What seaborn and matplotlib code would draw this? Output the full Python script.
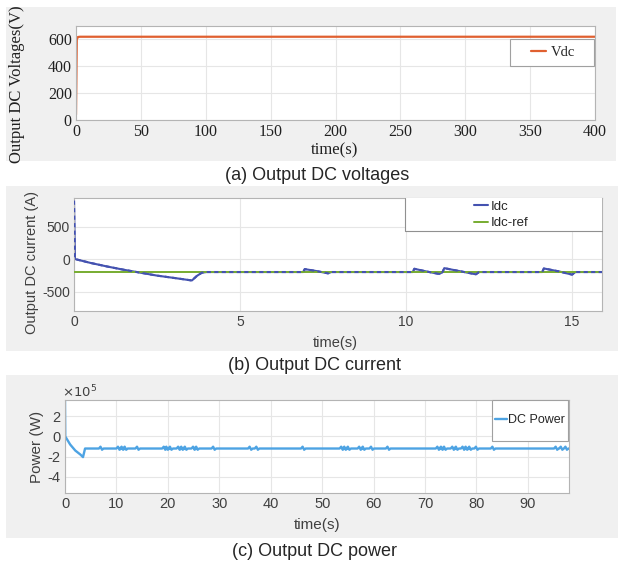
import numpy as np
import pandas as pd
import matplotlib
matplotlib.use("Agg")
import matplotlib.pyplot as plt
from matplotlib.patches import Rectangle
import seaborn as sns

# === datos ===
# (a) tensión DC
t_vdc = [0, 0.6, 1.5, 3, 400]
vdc = [40, 600, 618, 620, 620]

# (b) corriente DC
t_idc = [0, 0.03, 0.5, 1.0, 1.5, 2.0, 2.5, 3.0, 3.55, 3.7, 3.85, 4.0,
         6.9, 6.95, 7.3, 7.65, 7.75,
         10.2, 10.25, 10.6, 11.0, 11.1, 11.15, 11.6, 12.1, 12.2,
         14.1, 14.15, 14.6, 15.0, 15.1, 15.9]
idc = [900, 0, -60, -115, -165, -210, -255, -290, -330, -260, -210, -200,
       -200, -155, -185, -220, -200,
       -200, -150, -190, -230, -200, -140, -185, -235, -200,
       -200, -145, -190, -240, -200, -200]
idc_ref = -200

# (c) potencia DC (x 1e5 W)
t_pow = [0, 0.05, 1.0, 2.0, 3.0, 3.5, 3.9, 98]
pow_base = [3.5, 0, -0.8, -1.4, -1.8, -2.05, -1.2, -1.2]
spike_t = [6.9, 10.3, 11.0, 11.6, 14.0, 19.2, 19.7, 20.4, 22.0, 22.6, 23.3,
           24.9, 25.5, 28.8, 35.9, 37.2, 46.2, 53.7, 54.3, 55.0, 57.2, 57.9,
           59.5, 62.7, 72.4, 73.1, 73.7, 75.3, 76.0, 77.3, 77.9, 78.6, 79.9,
           83.1, 95.4, 96.4, 97.3]
spike_hi = -1.02
spike_lo = -1.32

W, H = 627, 564
plt.rcParams['axes.unicode_minus'] = False
sns.set_style("white")

fig = plt.figure(figsize=(W / 100, H / 100), dpi=100)
fig.patch.set_facecolor("white")


def caja(l, t, r, b):
    return fig.add_axes([l / W, 1 - b / H, (r - l) / W, (b - t) / H])


def fondo(l, t, r, b):
    fig.patches.append(Rectangle((l / W, 1 - b / H), (r - l) / W, (b - t) / H,
                                 transform=fig.transFigure, facecolor="#f0f0f0",
                                 edgecolor="none", zorder=-10))


def texto(x, y, s, **kw):
    fig.text(x / W, 1 - y / H, s, ha="center", va="center", **kw)


def estilo(ax, fam, fs, col):
    ax.set_facecolor("white")
    ax.grid(True, color="#e6e6e6", linewidth=0.8)
    for sp in ax.spines.values():
        sp.set_color("#b4b4b4")
        sp.set_linewidth(0.8)
    ax.tick_params(direction="in", length=3, color="#b4b4b4", labelsize=fs,
                   labelcolor=col, pad=3)
    for lab in ax.get_xticklabels() + ax.get_yticklabels():
        lab.set_family(fam)
    ax.set_xlabel("")
    ax.set_ylabel("")


def caja_leyenda(ax, l, t, r, b, bordes="all"):
    x0, y0 = ax.transAxes.inverted().transform(
        fig.transFigure.transform((l / W, 1 - b / H)))
    x1, y1 = ax.transAxes.inverted().transform(
        fig.transFigure.transform((r / W, 1 - t / H)))
    ax.add_patch(Rectangle((x0, y0), x1 - x0, y1 - y0, transform=ax.transAxes,
                           facecolor="white", edgecolor="none", zorder=5,
                           clip_on=False))
    if bordes == "all":
        ax.add_patch(Rectangle((x0, y0), x1 - x0, y1 - y0, transform=ax.transAxes,
                               facecolor="none", edgecolor="#a0a0a0", lw=0.8,
                               zorder=6, clip_on=False))
    else:
        ax.plot([x0, x0, x1], [y1, y0, y0], transform=ax.transAxes,
                color="#909090", lw=0.8, zorder=6, clip_on=False)
    return x0, y0, x1, y1


def a_ejes(ax, x, y):
    return ax.transAxes.inverted().transform(
        fig.transFigure.transform((x / W, 1 - y / H)))


serif = "Liberation Serif"
sans = "Liberation Sans"
narrow = ["Liberation Sans Narrow", "Liberation Sans"]

# fondos grises
fondo(6, 7, 616, 161)
fondo(6, 186, 618, 351)
fondo(6, 375, 618, 538)

# === (a) ===
ax1 = caja(76, 26, 595, 120)
sns.lineplot(x=t_vdc, y=vdc, ax=ax1, color="#e06030", linewidth=1.6,
             estimator=None, sort=False, label="Vdc", legend=False)
ax1.set_xlim(0, 400)
ax1.set_ylim(0, 700)
ax1.set_xticks(np.arange(0, 401, 50))
ax1.set_yticks([0, 200, 400, 600])
estilo(ax1, serif, 11.5, "#202020")
caja_leyenda(ax1, 510, 39, 594, 66)
leg = ax1.legend(loc="center", bbox_to_anchor=tuple(a_ejes(ax1, 553, 52)),
                 frameon=False, handlelength=1.0, handletextpad=0.3,
                 prop={"family": serif, "size": 10.5})
leg.set_zorder(7)
texto(17, 84, "Output DC Voltages(V)", rotation=90, family=serif, fontsize=12,
      color="#202020")
texto(335, 150, "time(s)", family=serif, fontsize=12, color="#202020")
texto(317, 175, "(a) Output DC voltages", family=narrow, fontsize=13)

# === (b) ===
ax2 = caja(74, 198, 602, 311)
sns.lineplot(x=t_idc, y=idc, ax=ax2, color="#4452b0", linewidth=1.5,
             estimator=None, sort=False, label="Idc", legend=False, zorder=2)
ax2.axhline(idc_ref, color="#77ac30", linewidth=1.4, label="Idc-ref", zorder=3)
# rizado: Idc trazada de nuevo a trazos encima de la referencia
sns.lineplot(x=t_idc, y=idc, ax=ax2, color="#4452b0", linewidth=1.5,
             estimator=None, sort=False, legend=False, zorder=4,
             dashes=False).lines[-1].set_dashes((2, 1.6))
ax2.set_xlim(0, 15.9)
ax2.set_ylim(-800, 940)
ax2.set_xticks([0, 5, 10, 15])
ax2.set_yticks([-500, 0, 500])
estilo(ax2, sans, 10, "#404040")
caja_leyenda(ax2, 405, 198, 602, 231, bordes="lb")
h, l = ax2.get_legend_handles_labels()
leg = ax2.legend(h[:2], l[:2], loc="center left",
                 bbox_to_anchor=tuple(a_ejes(ax2, 462, 215)),
                 frameon=False, handlelength=1.1, handletextpad=0.2,
                 labelspacing=0.3, prop={"family": sans, "size": 9.5})
leg.set_zorder(7)
texto(32, 262, "Output DC current (A)", rotation=90, family=sans,
      fontsize=10.5, color="#404040")
texto(335, 343, "time(s)", family=sans, fontsize=10.5, color="#404040")
texto(315, 366, "(b) Output DC current", family=narrow, fontsize=13)

# === (c) ===
tp = list(t_pow[:-1])
pp = list(pow_base[:-1])
for s in spike_t:
    tp += [s - 0.3, s, s + 0.3, s + 0.6]
    pp += [-1.2, spike_hi, spike_lo, -1.2]
tp.append(t_pow[-1])
pp.append(pow_base[-1])
df_p = pd.DataFrame({"t": tp, "p": pp})

ax3 = caja(65, 400, 569, 493)
sns.lineplot(data=df_p, x="t", y="p", ax=ax3, color="#4da3e3", linewidth=1.7,
             estimator=None, sort=False, label="DC Power", legend=False)
ax3.set_xlim(0, 98)
ax3.set_ylim(-5.6, 3.6)
ax3.set_xticks(np.arange(0, 91, 10))
ax3.set_yticks([-4, -2, 0, 2])
estilo(ax3, sans, 10.5, "#404040")
caja_leyenda(ax3, 492, 400, 568, 441)
leg = ax3.legend(loc="center", bbox_to_anchor=tuple(a_ejes(ax3, 530, 420)),
                 frameon=False, handlelength=1.0, handletextpad=0.1,
                 prop={"family": sans, "size": 9})
leg.set_zorder(7)
texto(80, 392, r"$\times 10^5$", family=sans, fontsize=9.5, color="#404040")
texto(37, 447, "Power (W)", rotation=90, family=sans, fontsize=11,
      color="#404040")
texto(317, 525, "time(s)", family=sans, fontsize=11, color="#404040")
texto(315, 551, "(c) Output DC power", family=narrow, fontsize=13)

fig.savefig("out.png", dpi=100)
